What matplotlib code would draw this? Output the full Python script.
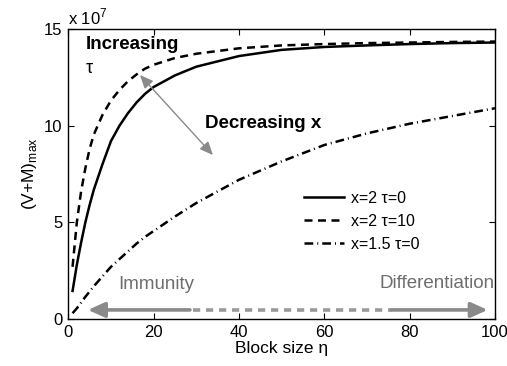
import matplotlib
matplotlib.use("Agg")
import matplotlib.pyplot as plt

plt.rcParams['font.family'] = ['Liberation Sans', 'DejaVu Sans']
plt.rcParams['mathtext.fontset'] = 'custom'
plt.rcParams['mathtext.rm'] = 'Liberation Sans'

# (V+M)max in units of 1e7, against block size eta
eta = [1, 2, 3, 4, 5, 6, 8, 10, 12, 14, 16, 18, 20, 25, 30, 40, 50, 60, 70, 80, 90, 100]
vm_x2_tau0 = [1.45, 2.8, 3.95, 5.0, 5.9, 6.7, 8.0, 9.2, 10.0, 10.65, 11.2, 11.65, 12.0,
              12.6, 13.05, 13.6, 13.92, 14.07, 14.15, 14.22, 14.27, 14.3]
vm_x2_tau10 = [2.7, 5.0, 6.6, 7.8, 8.8, 9.55, 10.55, 11.3, 11.85, 12.3, 12.65, 12.95, 13.15,
               13.5, 13.72, 14.0, 14.15, 14.22, 14.27, 14.3, 14.33, 14.35]
vm_x15_tau0 = [0.3, 0.55, 0.85, 1.15, 1.42, 1.7, 2.2, 2.7, 3.1, 3.5, 3.9, 4.25, 4.55,
               5.3, 6.0, 7.2, 8.15, 9.0, 9.6, 10.1, 10.5, 10.9]

labels = ['x=2 \u03c4=0', 'x=2 \u03c4=10', 'x=1.5 \u03c4=0']
xticks = [0, 20, 40, 60, 80, 100]
yticks = [0, 5, 10, 15]

fig = plt.figure(figsize=(5.07, 3.66), dpi=100)
ax = fig.add_axes([0.1347, 0.1284, 0.8416, 0.7924])

lw = 1.8
ax.plot(eta, vm_x2_tau0, color='black', lw=lw, label=labels[0])
ax.plot(eta, vm_x2_tau10, color='black', lw=lw, dashes=(3.2, 2.2), label=labels[1])
ax.plot(eta, vm_x15_tau0, color='black', lw=lw, dashes=(3.5, 1.6, 0.4, 1.6), label=labels[2])

ax.set_xlim(0, 100)
ax.set_ylim(0, 15)
ax.set_xticks(xticks)
ax.set_yticks(yticks)
ax.tick_params(direction='in', length=4, width=0.8, top=True, right=True, labelsize=12, pad=4)
for s in ax.spines.values():
    s.set_linewidth(1.0)

ax.set_xlabel('Block size \u03b7', fontsize=12.5, labelpad=1)
ax.set_ylabel('(V+M)$_{\\mathrm{max}}$', fontsize=12.5, labelpad=4)
ax.text(0.0, 1.005, 'x 10$^{7}$', transform=ax.transAxes, fontsize=12, ha='left', va='bottom')

leg = ax.legend(loc='upper left', bbox_to_anchor=(0.53, 0.476), frameon=False, fontsize=11.5,
                handlelength=2.5, handletextpad=0.45, labelspacing=0.5, borderaxespad=0.2)

# annotations
ax.text(4.0, 14.2, 'Increasing', fontsize=13.5, fontweight='bold', ha='left', va='center')
ax.text(4.0, 12.95, '\u03c4', fontsize=13, ha='left', va='center')
ax.text(32.0, 10.1, 'Decreasing x', fontsize=13.5, fontweight='bold', ha='left', va='center')

grey = '#8a8a8a'
ax.annotate('', xy=(16.8, 12.62), xytext=(33.9, 8.48),
            arrowprops=dict(arrowstyle='<|-|>,head_length=0.8,head_width=0.35',
                            color=grey, lw=1.0, shrinkA=0, shrinkB=0))

# immunity / differentiation arrow along the bottom
ax.annotate('', xy=(4.6, 0.47), xytext=(28.5, 0.47),
            arrowprops=dict(arrowstyle='-|>,head_length=1.0,head_width=0.45',
                            color=grey, lw=2.6, shrinkA=0, shrinkB=0))
ax.plot([29.2, 75.8], [0.47, 0.47], color='#9a9a9a', lw=2.6, dashes=(2.0, 1.6))
ax.annotate('', xy=(98.3, 0.47), xytext=(75.8, 0.47),
            arrowprops=dict(arrowstyle='-|>,head_length=1.0,head_width=0.45',
                            color=grey, lw=2.6, shrinkA=0, shrinkB=0))
ax.text(11.6, 1.8, 'Immunity', fontsize=13.5, color='#6e6e6e', ha='left', va='center')
ax.text(99.9, 1.85, 'Differentiation', fontsize=13.5, color='#6e6e6e', ha='right', va='center')

fig.savefig('out.png', dpi=100)
